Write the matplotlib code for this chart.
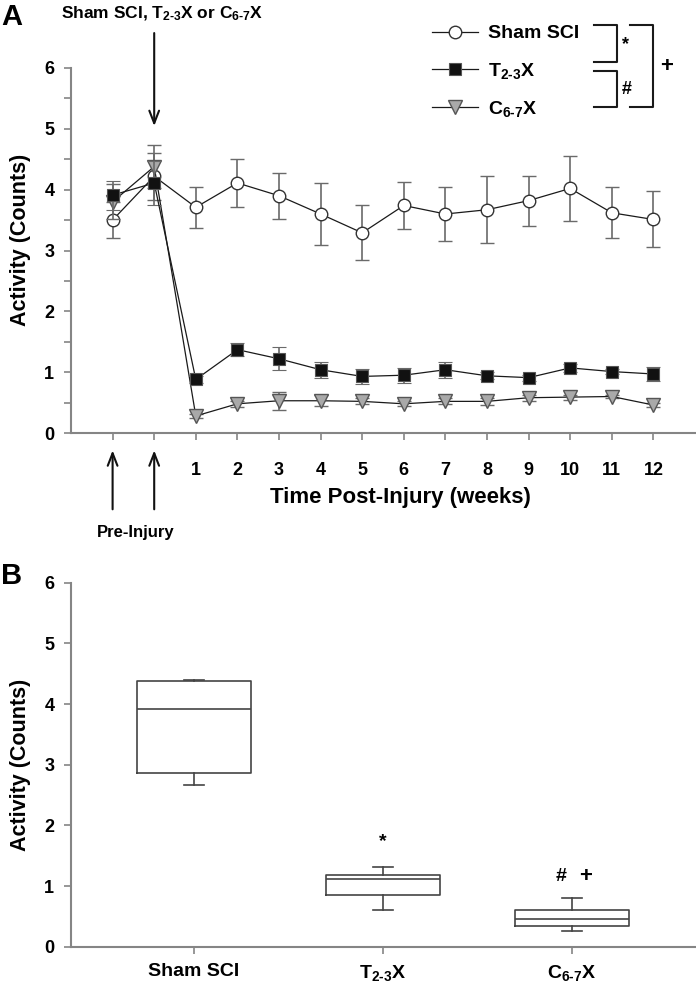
import numpy as np
import matplotlib
matplotlib.use('Agg')
import matplotlib.pyplot as plt
from matplotlib.lines import Line2D

plt.rcParams['font.family'] = ['Liberation Sans', 'DejaVu Sans']
plt.rcParams['font.weight'] = 'bold'
plt.rcParams['axes.labelweight'] = 'bold'
plt.rcParams['mathtext.fontset'] = 'custom'
plt.rcParams['mathtext.rm'] = 'Liberation Sans:bold'
plt.rcParams['mathtext.it'] = 'Liberation Sans:bold'
plt.rcParams['mathtext.bf'] = 'Liberation Sans:bold'

# panel A: time course (two pre-injury points, then weeks 1-12)
time_labels = ['', '', '1', '2', '3', '4', '5', '6', '7', '8', '9', '10', '11', '12']
sham_mean = [3.50, 4.22, 3.71, 4.11, 3.90, 3.60, 3.29, 3.74, 3.60, 3.67, 3.82, 4.02, 3.62, 3.51]
sham_err = [0.30, 0.39, 0.34, 0.39, 0.38, 0.51, 0.45, 0.38, 0.45, 0.55, 0.41, 0.54, 0.42, 0.46]
t23_mean = [3.91, 4.11, 0.88, 1.37, 1.22, 1.04, 0.93, 0.95, 1.04, 0.94, 0.91, 1.07, 1.01, 0.97]
t23_err = [0.24, 0.36, 0.05, 0.11, 0.19, 0.13, 0.12, 0.12, 0.13, 0.06, 0.05, 0.07, 0.04, 0.12]
c67_mean = [3.80, 4.38, 0.28, 0.48, 0.53, 0.53, 0.52, 0.48, 0.52, 0.52, 0.58, 0.59, 0.60, 0.46]
c67_err = [0.29, 0.36, 0.04, 0.05, 0.15, 0.09, 0.05, 0.04, 0.05, 0.06, 0.05, 0.04, 0.03, 0.04]

# panel B: box plot summary
groups = ['Sham SCI', r'T$_{2\text{-}3}$X', r'C$_{6\text{-}7}$X']
box_whislo = [2.66, 0.61, 0.26]
box_q1 = [2.87, 0.86, 0.34]
box_med = [3.91, 1.12, 0.45]
box_q3 = [4.38, 1.19, 0.60]
box_whishi = [4.39, 1.32, 0.80]

W, H = 696, 992
fig = plt.figure(figsize=(W / 100, H / 100), dpi=100)

def fx(px):
    return px / W

def fy(py):
    return 1 - py / H

axis_grey = '#858585'
err_grey = '#6a6a6a'

def style_axes(ax):
    for s in ['top', 'right']:
        ax.spines[s].set_visible(False)
    for s in ['left', 'bottom']:
        ax.spines[s].set_color(axis_grey)
        ax.spines[s].set_linewidth(1.5)
    ax.tick_params(which='both', direction='out', color=axis_grey, width=1.2, labelsize=13)
    ax.tick_params(which='major', length=5)
    ax.tick_params(axis='y', pad=7)

# ---- panel A ----
ax = fig.add_axes([fx(71), fy(433), fx(624), (433 - 68) / H])
x = np.arange(len(time_labels)) - 1

eb_kw = dict(ecolor=err_grey, elinewidth=1.2, capsize=4.7, capthick=1.2, color='#1a1a1a', lw=0.9)
ax.errorbar(x, sham_mean, yerr=sham_err, marker='o', ms=9, mfc='white', mec='#333333', mew=1.0,
            label='Sham SCI', zorder=2, **eb_kw)
ax.errorbar(x, c67_mean, yerr=c67_err, marker='v', ms=10, mfc='#a9a9a9', mec='#555555', mew=1.0,
            label=r'C$_{6\text{-}7}$X', zorder=3, **eb_kw)
ax.errorbar(x, t23_mean, yerr=t23_err, marker='s', ms=8.3, mfc='#111111', mec='#555555', mew=0.8,
            label=r'T$_{2\text{-}3}$X', zorder=4, **eb_kw)

ax.set_xlim(-2, 13)
ax.set_ylim(0, 6)
ax.set_xticks(x)
ax.set_xticklabels(time_labels)
ax.set_yticks(np.arange(0, 7, 1))
ax.set_yticks(np.arange(0.5, 6, 1), minor=True)
style_axes(ax)
ax.tick_params(axis='y', which='minor', length=5)
ax.tick_params(axis='x', pad=16)
ax.set_xlabel('Time Post-Injury (weeks)', fontsize=16)
ax.xaxis.set_label_coords((400 - 71) / 624, -(487 - 433) / 365)
ax.set_ylabel('Activity (Counts)', fontsize=15.5)
ax.yaxis.set_label_coords(-(71 - 31) / 624, 0.53)

arrow_kw = dict(arrowstyle='->,head_length=0.9,head_width=0.35', color='#111111', lw=1.5)
ax.annotate('', xy=(0, 5.0), xytext=(0, 6.62), arrowprops=arrow_kw, annotation_clip=False)
for xp in x[:2]:
    ax.annotate('', xy=(xp, -0.24), xytext=(xp, -1.3), arrowprops=arrow_kw, annotation_clip=False)
ax.text(-0.44, -1.63, 'Pre-Injury', ha='center', va='center', fontsize=12, clip_on=False)

handles, labels = ax.get_legend_handles_labels()
order = [0, 2, 1]
handles = [handles[i][0] for i in order]
labels = [labels[i] for i in order]
ax.legend(handles, labels, loc='upper left', bbox_to_anchor=(fx(422), fy(15)),
          bbox_transform=fig.transFigure, frameon=False, fontsize=14, borderpad=0,
          handlelength=2.4, handletextpad=0.5, labelspacing=0.95)

fig.text(fx(162), fy(14), r'Sham SCI, T$_{2\text{-}3}$X or C$_{6\text{-}7}$X', ha='center', va='center', fontsize=12.5)
fig.text(fx(1), fy(17), 'A', ha='left', va='center', fontsize=21)

# significance brackets next to the legend
def bracket(x0, x1, y0, y1):
    fig.add_artist(Line2D([fx(x0), fx(x1), fx(x1), fx(x0)], [fy(y0), fy(y0), fy(y1), fy(y1)],
                          color='#1a1a1a', lw=1.5))

bracket(594, 617, 25, 62)
bracket(594, 617, 71, 107)
bracket(630, 653, 25, 107)
fig.text(fx(625), fy(45), '*', ha='center', va='center', fontsize=13)
fig.text(fx(627), fy(89), '#', ha='center', va='center', fontsize=13)
fig.text(fx(667), fy(67), '+', ha='center', va='center', fontsize=16)

# ---- panel B ----
bx = fig.add_axes([fx(71), fy(946.7), fx(624), (946.7 - 582.7) / H])
stats = []
for i in range(len(groups)):
    stats.append(dict(label=groups[i], whislo=box_whislo[i], q1=box_q1[i], med=box_med[i],
                      q3=box_q3[i], whishi=box_whishi[i], fliers=[]))
line_kw = dict(color='#444444', lw=1.2)
bx.bxp(stats, positions=range(len(groups)), widths=0.6, capwidths=0.11, showfliers=False,
       boxprops=line_kw, medianprops=line_kw, whiskerprops=line_kw, capprops=line_kw)
bx.set_xlim(-0.65, 2.65)
bx.set_ylim(0, 6)
bx.set_yticks(np.arange(0, 7, 1))
style_axes(bx)
bx.tick_params(axis='x', pad=7, labelsize=14)
bx.set_ylabel('Activity (Counts)', fontsize=15.5)
bx.yaxis.set_label_coords(-(71 - 31) / 624, 0.5)
bx.text(1, 1.73, '*', ha='center', va='center', fontsize=14)
bx.text(1.94, 1.16, '#', ha='center', va='center', fontsize=14)
bx.text(2.07, 1.16, '+', ha='center', va='center', fontsize=16)
fig.text(fx(1), fy(576), 'B', ha='left', va='center', fontsize=21)

fig.savefig('out.png', dpi=100)
